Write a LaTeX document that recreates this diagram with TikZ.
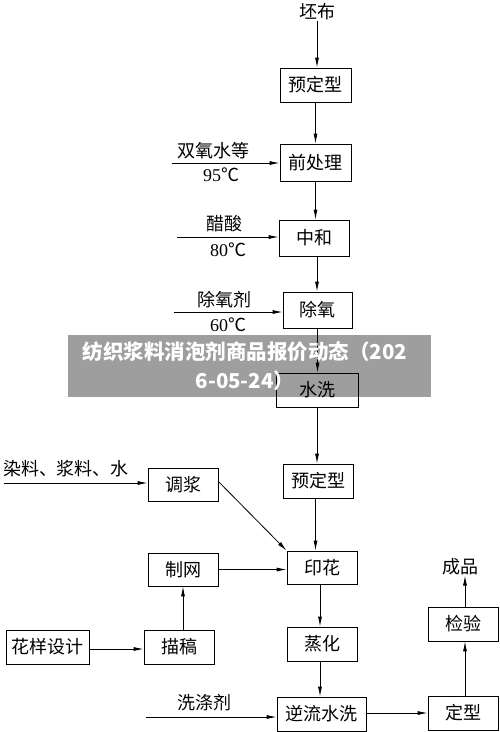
\documentclass[tikz,border=0pt]{standalone}
\usepackage{fontspec}
\setmainfont{Liberation Serif}
\newfontfamily\cjk{Noto Sans CJK SC}
\usetikzlibrary{arrows.meta}
\tikzset{
  box/.style={draw, line width=0.8pt, minimum width=70pt, minimum height=34pt, inner sep=0pt,
    font=\cjk\fontsize{18}{18}\selectfont},
  lbl/.style={inner sep=0pt, font=\cjk\fontsize{18}{18}\selectfont},
  tmp/.style={inner sep=0pt, font=\fontsize{18}{18}\selectfont},
  arr/.style={line width=0.8pt, -{Latex[length=10pt,width=4pt]}},
}
\begin{document}
\begin{tikzpicture}[x=1pt,y=-1pt]
\useasboundingbox (0,0) rectangle (500,732);
% main column
\node[lbl] (pb) at (317,12) {坯布};
\node[box, minimum width=71pt] (yd1) at (315.5,85) {预定型};
\node[box, minimum width=71pt, minimum height=37pt] (qcl) at (315.5,162.5) {前处理};
\node[box, minimum height=36pt] (zh) at (314,238) {中和};
\node[box, minimum width=69pt, minimum height=36pt] (cy) at (317.5,310) {除氧};
\node[box, minimum width=82pt] (sx) at (317,390) {水洗};
\node[box] (yd2) at (318.5,481) {预定型};
\node[box, minimum height=33pt] (tj) at (183,484.5) {调浆};
\node[box, minimum height=33pt] (yh) at (322,567.5) {印花};
\node[box, minimum height=33pt] (zw) at (183,569.5) {制网};
\node[box, minimum width=83pt] (hy) at (47.5,647) {花样设计};
\node[box] (mg) at (179,647) {描稿};
\node[box] (zhh) at (322,644) {蒸化};
\node[box, minimum width=89pt] (nl) at (321.5,714) {逆流水洗};
\node[box] (dx) at (463,713) {定型};
\node[box] (jy) at (463,624) {检验};
\node[lbl] (cp) at (460,567) {成品};
% main arrows
\draw[arr] (pb.south) -- (pb.south |- yd1.north);
\draw[arr] (yd1.south) -- (yd1.south |- qcl.north);
\draw[arr] (qcl.south) -- (qcl.south |- zh.north);
\draw[arr] (zh.south) ++(3,0) coordinate (zs) -- (zs |- cy.north);
\draw[arr] (cy.south) -- (cy.south |- sx.north);
\draw[arr] (sx.south) -- (sx.south |- yd2.north);
\draw[arr] (yd2.south) ++(-3,0) coordinate (ys) -- (ys |- yh.north);
\draw[arr] (yh.south) ++(-2,0) coordinate (hs) -- (hs |- zhh.north);
\draw[arr] (zhh.south) ++(-2,0) coordinate (zhs) -- (zhs |- nl.north);
\draw[arr] (nl.east |- dx.west) -- (dx.west);
\draw[arr] (dx.north) ++(2,0) coordinate (ds) -- (ds |- jy.south);
\draw[arr] (jy.north) ++(2,0) coordinate (js) -- (js |- cp.south);
% side inputs
\coordinate (in1) at (172,163);
\draw[arr] (in1) -- (in1 -| qcl.west);
\node[lbl] (l1a) at (213,151) {双氧水等};
\node[tmp] (l1b) at (221,175) {95{\cjk ℃}};
\coordinate (in2) at (177,237);
\draw[arr] (in2) -- (in2 -| zh.west);
\node[lbl] (l2a) at (224,224) {醋酸};
\node[tmp] (l2b) at (228,250) {80{\cjk ℃}};
\coordinate (in3) at (174,312);
\draw[arr] (in3) -- (in3 -| cy.west);
\node[lbl] (l3a) at (224,300) {除氧剂};
\node[tmp] (l3b) at (228,325) {60{\cjk ℃}};
\coordinate (in4) at (4,483);
\draw[arr] (in4) -- (in4 -| tj.west);
\node[lbl] (l4a) at (66,469) {染料、浆料、水};
\draw[arr] (tj.east) ++(0,-3) -- (yh.north west);
\draw[arr] (zw.east) -- (zw.east -| yh.west);
\draw[arr] (mg.north) ++(4,0) coordinate (ms) -- (ms |- zw.south);
\draw[arr] (hy.east) ++(0,2) coordinate (hys) -- (hys -| mg.west);
\coordinate (in5) at (146,717);
\draw[arr] (in5) -- (in5 -| nl.west);
\node[lbl] (l5a) at (204,703) {洗涤剂};
% banner overlay
\fill[black, opacity=0.38] (68,335) rectangle (431,397);
\node[inner sep=0pt, text=white, align=center, font=\cjk\bfseries\fontsize{20.5}{29}\selectfont] (ban) at (245,366)
  {纺织浆料消泡剂商品报价动态（202\\6-05-24）};
\end{tikzpicture}
\end{document}
